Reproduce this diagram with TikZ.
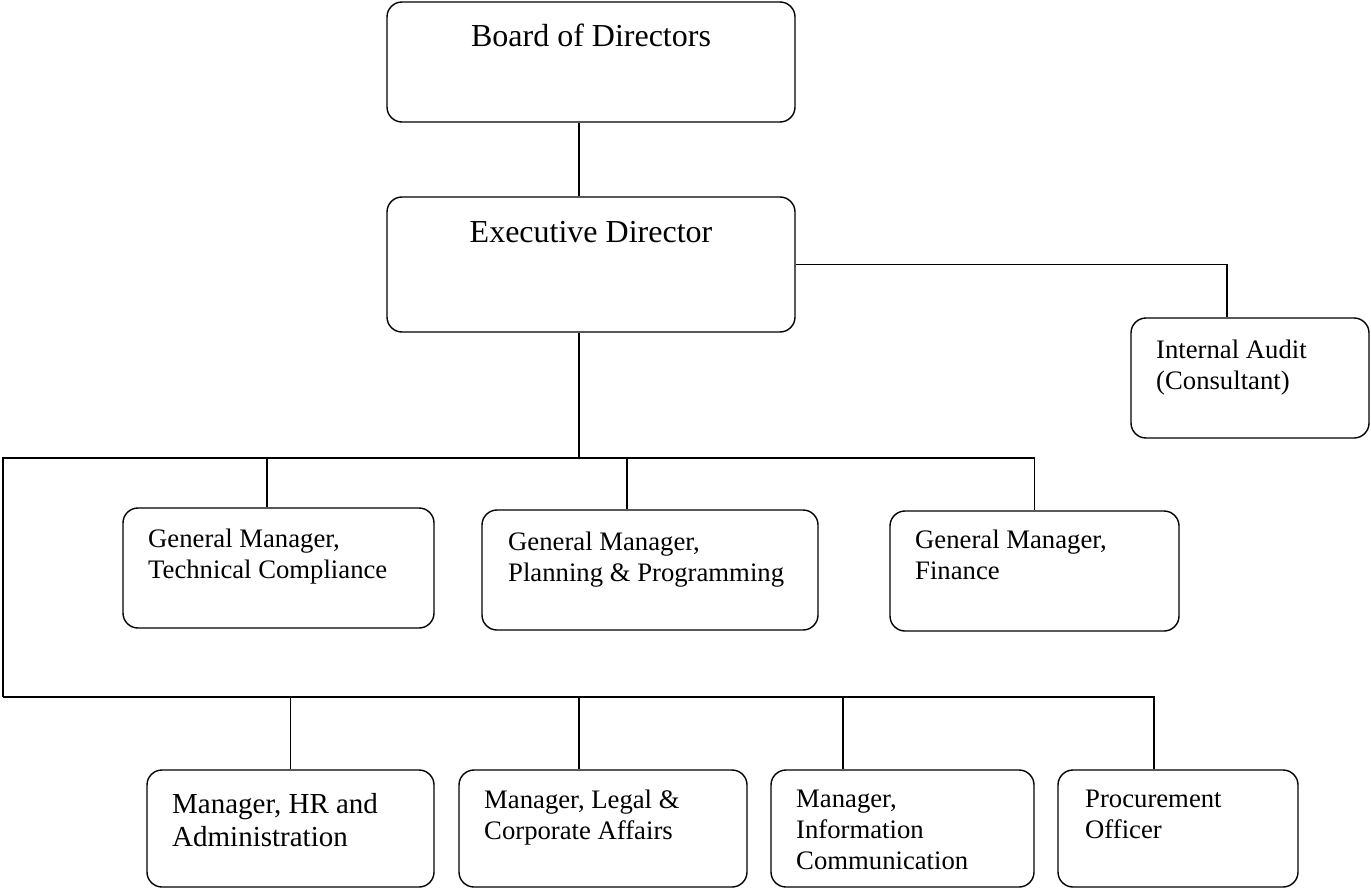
\documentclass[tikz,border=0pt]{standalone}
\usepackage{fontspec}
\setmainfont{Liberation Serif}
\begin{document}
\begin{tikzpicture}
  \tikzset{
    mybox/.style={
      draw=black,
      rounded corners=15pt,
      line width=1.4pt,
      inner sep=0pt
    },
    mytitle/.style={
      anchor=base,
      inner sep=0pt,
      font=\fontsize{32}{36}\selectfont
    },
    mytext/.style={
      anchor=north west,
      inner sep=0pt,
      align=left,
      font=\fontsize{26.7}{31}\selectfont
    }
  }

  \useasboundingbox (0pt, 0pt) rectangle (1371pt, -888pt);

  \node[mybox, minimum width=408pt, minimum height=120pt] (bod) at (591pt, -62pt) {};
  \node[mybox, minimum width=408pt, minimum height=135pt] (ed) at (591pt, -264.5pt) {};
  \node[mybox, minimum width=238pt, minimum height=120pt] (ia) at (1250pt, -378pt) {};
  \node[mybox, minimum width=311pt, minimum height=120pt] (gm1) at (278.5pt, -568pt) {};
  \node[mybox, minimum width=336pt, minimum height=120pt] (gm2) at (650pt, -570pt) {};
  \node[mybox, minimum width=289pt, minimum height=120pt] (gm3) at (1034.5pt, -571pt) {};
  \node[mybox, minimum width=287pt, minimum height=117pt] (m1) at (290.5pt, -828.5pt) {};
  \node[mybox, minimum width=288pt, minimum height=117pt] (m2) at (603pt, -828.5pt) {};
  \node[mybox, minimum width=263pt, minimum height=117pt] (m3) at (902.5pt, -828.5pt) {};
  \node[mybox, minimum width=240pt, minimum height=117pt] (po) at (1178pt, -828.5pt) {};

  \node[mytitle] (bodtext) at (591pt, -47pt) {Board of Directors};
  \node[mytitle] (edtext) at (591pt, -242pt) {Executive Director};
  \node[mytext] (iatext) at (1156pt, -339.6pt) {Internal Audit\\(Consultant)};
  \node[mytext] (gm1text) at (148pt, -528.6pt) {General Manager,\\Technical Compliance};
  \node[mytext] (gm2text) at (508pt, -531.6pt) {General Manager,\\Planning \& Programming};
  \node[mytext] (gm3text) at (915pt, -529.6pt) {General Manager,\\Finance};
  \node[mytext, font=\fontsize{29}{33}\selectfont] (m1text) at (172pt, -793.2pt) {Manager, HR and\\Administration};
  \node[mytext] (m2text) at (484pt, -789.6pt) {Manager, Legal \&\\Corporate Affairs};
  \node[mytext] (m3text) at (796pt, -789.6pt) {Manager,\\Information\\Communication};
  \node[mytext] (potext) at (1085pt, -789.6pt) {Procurement\\Officer};

  \coordinate (topbus) at (3pt, -458pt);
  \coordinate (lowbus) at (3pt, -697pt);

  \draw[line width=1.3pt] ([xshift=-12pt]bod.south) -- ([xshift=-12pt]ed.north);
  \draw[line width=1.3pt] (ed.east) -| ([xshift=-23pt]ia.north);
  \draw[line width=1.3pt] ([xshift=-12pt]ed.south) -- ([xshift=-12pt]ed.south |- topbus);
  \draw[line width=1.3pt] (lowbus) -- (topbus) -| (gm3.north);
  \draw[line width=1.3pt] ([xshift=-11.5pt]gm1.north) -- ([xshift=-11.5pt]gm1.north |- topbus);
  \draw[line width=1.3pt] ([xshift=-23pt]gm2.north) -- ([xshift=-23pt]gm2.north |- topbus);
  \draw[line width=1.3pt] (lowbus) -| ([xshift=-24pt]po.north);
  \draw[line width=1.3pt] (m1.north) -- (m1.north |- lowbus);
  \draw[line width=1.3pt] ([xshift=-24pt]m2.north) -- ([xshift=-24pt]m2.north |- lowbus);
  \draw[line width=1.3pt] ([xshift=-59.5pt]m3.north) -- ([xshift=-59.5pt]m3.north |- lowbus);
\end{tikzpicture}
\end{document}
